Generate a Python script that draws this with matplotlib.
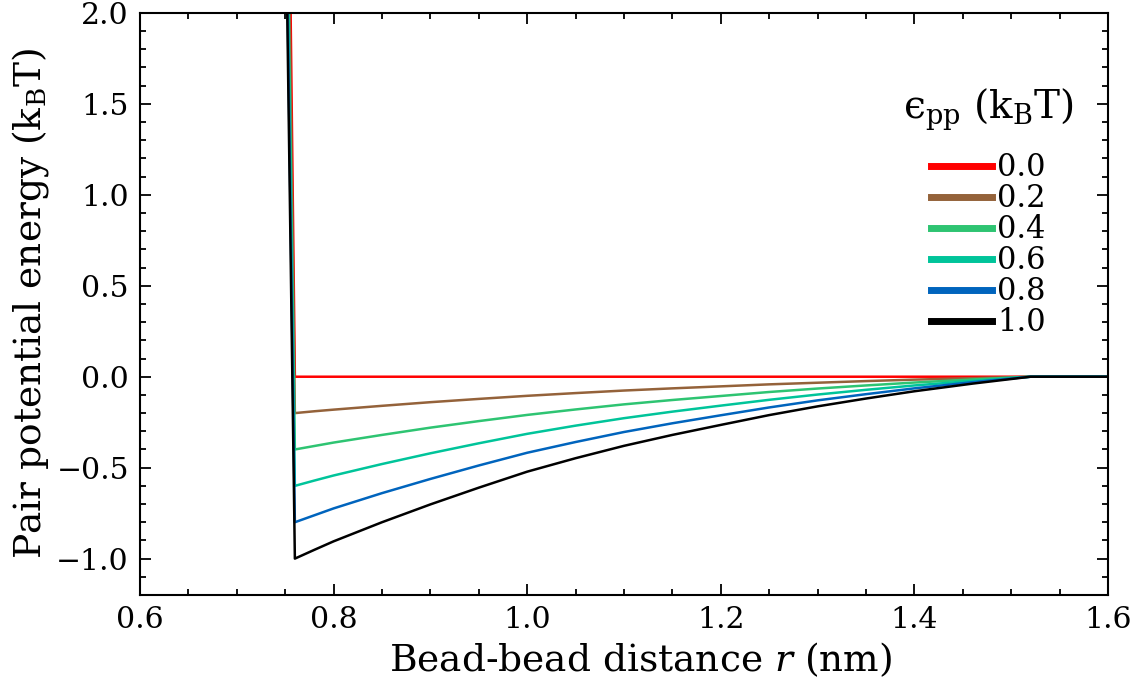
import matplotlib
matplotlib.use("Agg")
import matplotlib.pyplot as plt
from matplotlib.ticker import MultipleLocator

plt.rcParams['font.family'] = 'DejaVu Serif'
plt.rcParams['mathtext.fontset'] = 'dejavuserif'

# values
eps_labels = ['0.0', '0.2', '0.4', '0.6', '0.8', '1.0']
colors = ['#ff0000', '#94623a', '#2ec472', '#00c49a', '#0064bd', '#000000']

# r grid (nm) of the attractive tail, same for all curves
r_tail = [0.76, 0.78, 0.80, 0.85, 0.90, 0.95, 1.00, 1.05, 1.10, 1.15, 1.20,
          1.25, 1.30, 1.35, 1.40, 1.46, 1.52, 1.60]
# wall top (r where curve leaves the top of the frame)
r_wall = [0.7555, 0.7545, 0.7535, 0.753, 0.7525, 0.752]
u_wall = 2.05

u_00 = [0.0, 0.0, 0.0, 0.0, 0.0, 0.0, 0.0, 0.0, 0.0, 0.0, 0.0,
        0.0, 0.0, 0.0, 0.0, 0.0, 0.0, 0.0]
u_02 = [-0.200, -0.190, -0.181, -0.160, -0.140, -0.122, -0.105, -0.090, -0.076, -0.064, -0.053,
        -0.042, -0.033, -0.024, -0.016, -0.008, 0.0, 0.0]
u_04 = [-0.400, -0.381, -0.362, -0.320, -0.280, -0.244, -0.210, -0.180, -0.152, -0.128, -0.106,
        -0.084, -0.065, -0.048, -0.032, -0.015, 0.0, 0.0]
u_06 = [-0.600, -0.571, -0.543, -0.480, -0.421, -0.366, -0.314, -0.269, -0.228, -0.192, -0.159,
        -0.127, -0.098, -0.072, -0.048, -0.023, 0.0, 0.0]
u_08 = [-0.800, -0.762, -0.724, -0.640, -0.562, -0.488, -0.418, -0.359, -0.304, -0.256, -0.212,
        -0.169, -0.130, -0.096, -0.064, -0.030, 0.0, 0.0]
u_10 = [-1.000, -0.952, -0.905, -0.800, -0.702, -0.610, -0.522, -0.448, -0.380, -0.320, -0.265,
        -0.211, -0.163, -0.120, -0.080, -0.038, 0.0, 0.0]
curves = [u_00, u_02, u_04, u_06, u_08, u_10]

fig = plt.figure(figsize=(11.41, 6.8), dpi=100)
ax = fig.add_axes([0.1227, 0.125, 0.971 - 0.1227, 0.981 - 0.125])

for lab, col, rw, u in zip(eps_labels, colors, r_wall, curves):
    ax.plot([rw] + r_tail, [u_wall] + u, color=col, lw=1.8, label=lab)

ax.set_xlim(0.6, 1.6)
ax.set_ylim(-1.2, 2.0)
ax.xaxis.set_major_locator(MultipleLocator(0.2))
ax.xaxis.set_minor_locator(MultipleLocator(0.05))
ax.yaxis.set_major_locator(MultipleLocator(0.5))
ax.yaxis.set_minor_locator(MultipleLocator(0.1))
ax.tick_params(which='both', direction='in', top=True, right=True, labelsize=21.5, width=1.3)
ax.tick_params(which='major', length=8, pad=8)
ax.tick_params(which='minor', length=4)
for s in ax.spines.values():
    s.set_linewidth(1.5)

ax.set_xlabel(r'Bead-bead distance $r$ (nm)', fontsize=27, labelpad=4)
ax.xaxis.set_label_coords(0.517, -0.078)
ax.set_ylabel(r'Pair potential energy (k$_{\rm B}$T)', fontsize=27, labelpad=4)

leg = ax.legend(loc='upper right', bbox_to_anchor=(0.993, 0.921), frameon=False,
                fontsize=22, title='\u03f5$_{\\rm pp}$ (k$_{\\rm B}$T)',
                title_fontsize=28, handlelength=2.0, handletextpad=0.17,
                labelspacing=0.0)
leg._legend_box.sep = 14
for line in leg.get_lines():
    line.set_linewidth(5)

fig.savefig('out.png', dpi=100)
